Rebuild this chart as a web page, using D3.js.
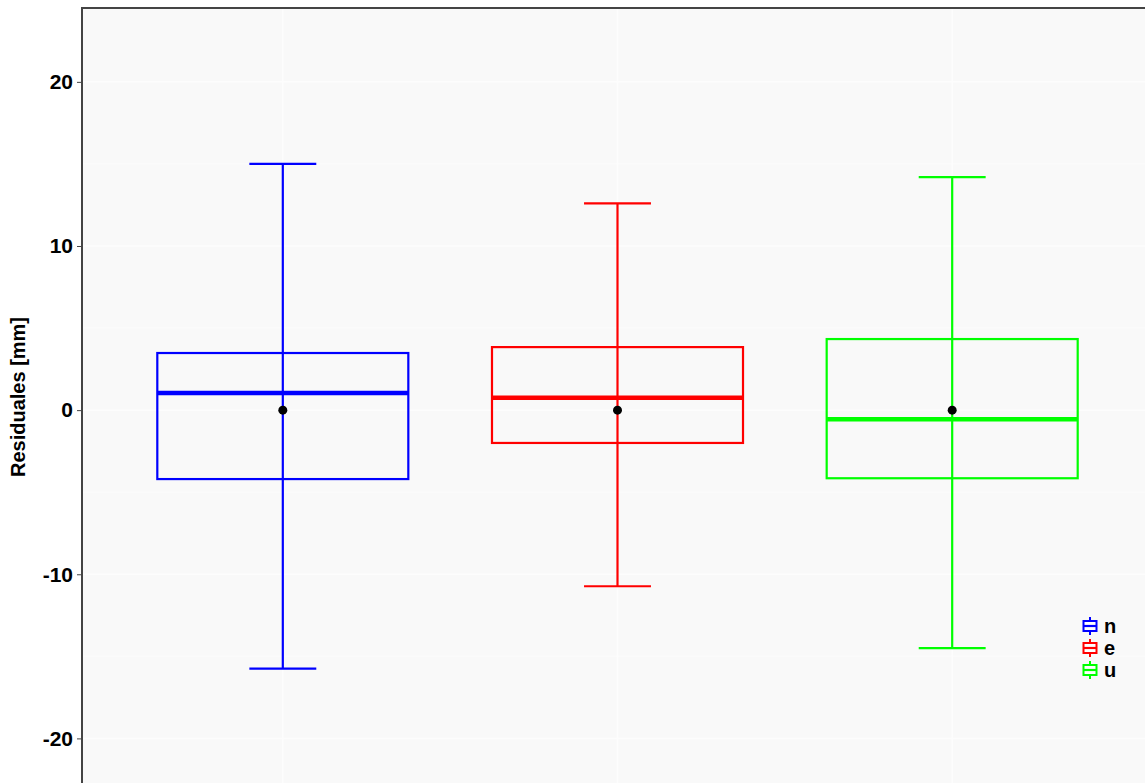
<!DOCTYPE html>
<html>
<head>
<meta charset="utf-8">
<script src="https://cdn.jsdelivr.net/npm/d3@7"></script>
<style>
  body { margin: 0; background: #fff; }
  text { font-family: "Liberation Sans", Arial, sans-serif; font-weight: bold; }
</style>
</head>
<body>
<script>
// residual summaries per component
var components = ["n", "e", "u"];
var colors = ["#0000FF", "#FF0000", "#00FF00"];
var whiskerLow = [-15.75, -10.73, -14.5];
var q1 = [-4.2, -2.0, -4.15];
var medians = [1.05, 0.75, -0.55];
var q3 = [3.48, 3.84, 4.33];
var whiskerHigh = [15.0, 12.6, 14.2];
var means = [0, 0, 0];
var yTicks = [-20, -10, 0, 10, 20];
var yMinor = [-25, -15, -5, 5, 15];

var width = 1145, height = 783;
var margin = {left: 82, top: 8};
var panelRight = 1153, panelBottom = 786;

var svg = d3.select("body").append("svg")
    .attr("width", width)
    .attr("height", height);

var x = d3.scaleLinear().domain([0.4, 3.6]).range([margin.left, panelRight]);
var y = d3.scaleLinear().domain([24.5, -22.9]).range([margin.top, panelBottom]);
var unit = x(2) - x(1);

var data = components.map(function (c, i) {
    return {name: c, color: colors[i], lo: whiskerLow[i], q1: q1[i], med: medians[i],
            q3: q3[i], hi: whiskerHigh[i], mean: means[i], pos: i + 1};
});

// panel
svg.append("rect")
    .attr("x", margin.left).attr("y", margin.top)
    .attr("width", panelRight - margin.left).attr("height", panelBottom - margin.top)
    .attr("fill", "#F9F9F9");

var grid = svg.append("g");
grid.selectAll("line.minor").data(yMinor).enter().append("line")
    .attr("x1", margin.left).attr("x2", panelRight)
    .attr("y1", function (d) { return y(d); }).attr("y2", function (d) { return y(d); })
    .attr("stroke", "#fcfcfc").attr("stroke-width", 1);
grid.selectAll("line.major").data(yTicks).enter().append("line")
    .attr("x1", margin.left).attr("x2", panelRight)
    .attr("y1", function (d) { return y(d); }).attr("y2", function (d) { return y(d); })
    .attr("stroke", "#fdfdfd").attr("stroke-width", 1.5);
grid.selectAll("line.vert").data(data).enter().append("line")
    .attr("x1", function (d) { return x(d.pos); }).attr("x2", function (d) { return x(d.pos); })
    .attr("y1", margin.top).attr("y2", panelBottom)
    .attr("stroke", "#fdfdfd").attr("stroke-width", 1.5);

// boxplots
var boxes = svg.append("g").selectAll("g").data(data).enter().append("g");

boxes.append("line")
    .attr("x1", function (d) { return x(d.pos); }).attr("x2", function (d) { return x(d.pos); })
    .attr("y1", function (d) { return y(d.hi); }).attr("y2", function (d) { return y(d.lo); })
    .attr("stroke", function (d) { return d.color; }).attr("stroke-width", 2.2);

boxes.selectAll("line.cap").data(function (d) { return [d, d].map(function (e, k) { return {d: e, v: k ? e.lo : e.hi}; }); })
    .enter().append("line")
    .attr("x1", function (c) { return x(c.d.pos) - unit * 0.1; })
    .attr("x2", function (c) { return x(c.d.pos) + unit * 0.1; })
    .attr("y1", function (c) { return y(c.v); }).attr("y2", function (c) { return y(c.v); })
    .attr("stroke", function (c) { return c.d.color; }).attr("stroke-width", 2.2);

boxes.append("rect")
    .attr("x", function (d) { return x(d.pos) - unit * 0.375; })
    .attr("width", unit * 0.75)
    .attr("y", function (d) { return y(d.q3); })
    .attr("height", function (d) { return y(d.q1) - y(d.q3); })
    .attr("fill", "none")
    .attr("stroke", function (d) { return d.color; }).attr("stroke-width", 2.2);

boxes.append("line")
    .attr("x1", function (d) { return x(d.pos) - unit * 0.375; })
    .attr("x2", function (d) { return x(d.pos) + unit * 0.375; })
    .attr("y1", function (d) { return y(d.med); }).attr("y2", function (d) { return y(d.med); })
    .attr("stroke", function (d) { return d.color; }).attr("stroke-width", 4.5);

boxes.append("circle")
    .attr("cx", function (d) { return x(d.pos); })
    .attr("cy", function (d) { return y(d.mean); })
    .attr("r", 4.5)
    .attr("fill", "#000");

// panel border
svg.append("rect")
    .attr("x", margin.left).attr("y", margin.top)
    .attr("width", panelRight - margin.left).attr("height", panelBottom - margin.top)
    .attr("fill", "none").attr("stroke", "#444").attr("stroke-width", 2);

// y axis
var yAxis = svg.append("g")
    .attr("transform", "translate(" + (margin.left - 1) + ",0)")
    .call(d3.axisLeft(y).tickValues(yTicks).tickSize(4).tickPadding(4).tickFormat(function (d) { return String(d); }));
yAxis.select(".domain").remove();
yAxis.selectAll(".tick line").attr("stroke", "#444").attr("stroke-width", 1);
yAxis.selectAll(".tick text").attr("fill", "#000").style("font-size", "21px")
    .style("font-family", "'Liberation Sans', Arial, sans-serif").style("font-weight", "bold");

svg.append("text")
    .attr("transform", "translate(25," + ((margin.top + panelBottom) / 2) + ") rotate(-90)")
    .attr("text-anchor", "middle")
    .style("font-size", "20px")
    .text("Residuales [mm]");

// legend
var legend = svg.append("g").attr("transform", "translate(1082,617)");
var item = legend.selectAll("g").data(data).enter().append("g")
    .attr("transform", function (d, i) { return "translate(0," + (i * 22) + ")"; });
item.append("line")
    .attr("x1", 8).attr("x2", 8).attr("y1", 0).attr("y2", 18)
    .attr("stroke", function (d) { return d.color; }).attr("stroke-width", 2);
item.append("rect")
    .attr("x", 1.5).attr("y", 4).attr("width", 13).attr("height", 10)
    .attr("fill", "#fff")
    .attr("stroke", function (d) { return d.color; }).attr("stroke-width", 2);
item.append("line")
    .attr("x1", 1.5).attr("x2", 14.5).attr("y1", 9).attr("y2", 9)
    .attr("stroke", function (d) { return d.color; }).attr("stroke-width", 2.2);
item.append("text")
    .attr("x", 22).attr("y", 9).attr("dy", "0.35em")
    .style("font-size", "20px")
    .text(function (d) { return d.name; });
</script>
</body>
</html>
